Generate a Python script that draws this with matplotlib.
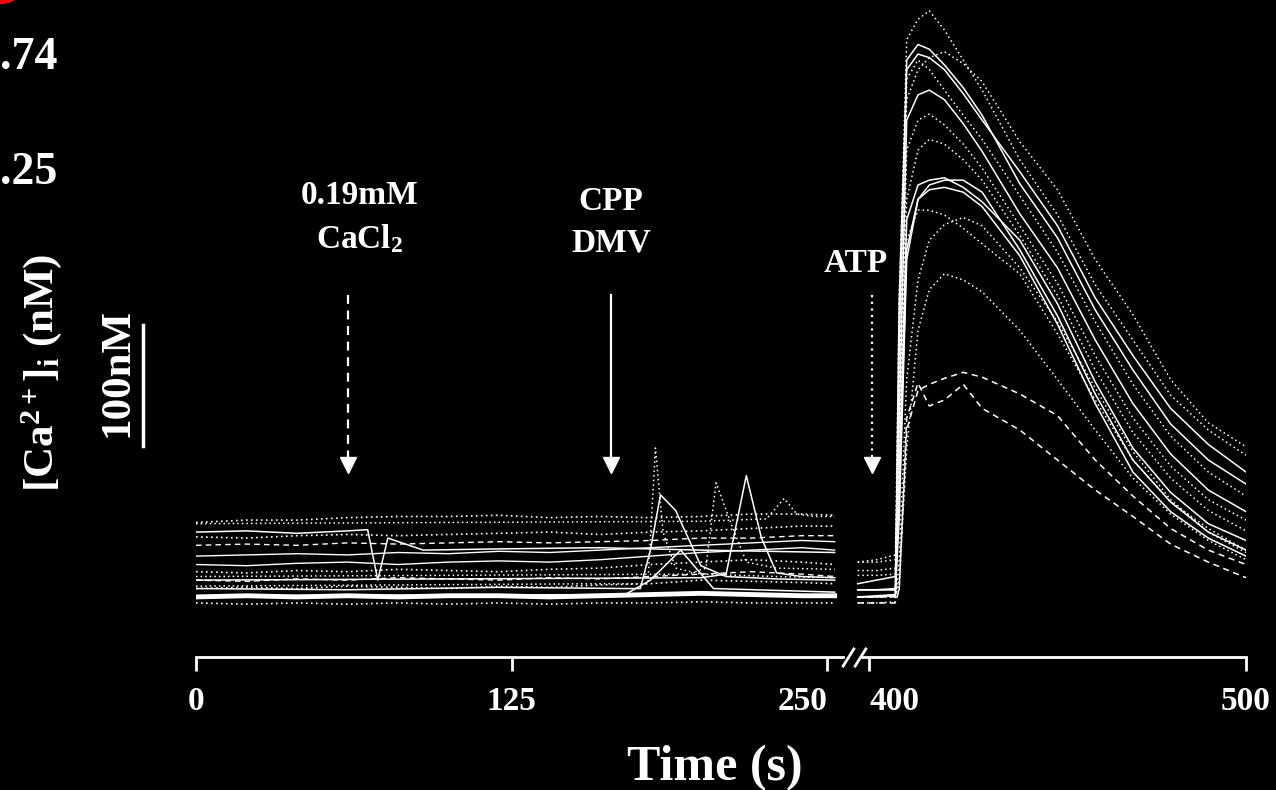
import matplotlib.pyplot as plt
from matplotlib.patches import Ellipse

plt.rcParams['font.family'] = 'Liberation Serif'
plt.rcParams['font.weight'] = 'bold'
plt.rcParams['mathtext.fontset'] = 'custom'
plt.rcParams['mathtext.rm'] = 'Liberation Serif:bold'
plt.rcParams['mathtext.it'] = 'Liberation Serif:bold'
plt.rcParams['mathtext.bf'] = 'Liberation Serif:bold'

DOT = (0, (1, 2))
DASH = (0, (4, 3))
SOLID = '-'

# ---- left part of the record, 0-253 s (values in nM)
t_base = [0, 20, 40, 60, 80, 100, 120, 140, 160, 180, 200, 220, 240, 253]
base_traces = [
    ([173, 175, 175, 177, 178, 178, 179, 177, 178, 177, 178, 180, 180, 179], DOT, 1.2),
    ([161, 160, 162, 163, 162, 163, 164, 165, 163, 165, 166, 168, 170, 170], DOT, 1.2),
    ([154, 155, 154, 156, 155, 156, 157, 156, 157, 158, 160, 160, 162, 162], DASH, 1.0),
    ([145, 146, 147, 146, 148, 147, 149, 148, 150, 152, 154, 156, 158, 157], SOLID, 1.0),
    ([138, 137, 139, 140, 138, 140, 141, 140, 142, 145, 148, 150, 152, 150], SOLID, 1.0),
    ([132, 131, 133, 132, 134, 133, 132, 134, 135, 138, 140, 142, 140, 138], DOT, 1.2),
    ([125, 124, 126, 125, 127, 126, 125, 127, 126, 128, 130, 132, 130, 128], DASH, 1.0),
    ([118, 119, 118, 120, 119, 118, 120, 119, 121, 122, 125, 124, 123, 122], DOT, 1.2),
    ([111, 112, 111, 112, 111, 112, 112, 111, 112, 113, 114, 113, 112, 112], SOLID, 3.5),
    ([106, 105, 106, 105, 106, 105, 106, 105, 106, 106, 107, 106, 106, 106], DOT, 1.2),
]

# responsive cells on the left part (own time points)
t_dip = [0, 20, 40, 60, 68, 72, 76, 90, 120, 160, 200, 253]
v_dip = [165, 166, 164, 166, 167, 125, 160, 150, 151, 152, 150, 148]
t_e1 = [0, 60, 120, 170, 176, 180, 184, 190, 200, 210, 230, 253]
v_e1 = [118, 117, 119, 118, 118, 150, 196, 183, 137, 128, 126, 125]
t_e2 = [0, 80, 160, 179, 182, 185, 190, 200, 230, 253]
v_e2 = [120, 121, 122, 122, 235, 165, 135, 130, 128, 127]
t_e3 = [0, 100, 195, 202, 206, 212, 218, 230, 253]
v_e3 = [128, 129, 130, 135, 206, 172, 140, 135, 134]
t_e4 = [0, 100, 200, 210, 218, 224, 230, 240, 253]
v_e4 = [125, 126, 127, 130, 212, 160, 131, 128, 127]
t_e5 = [0, 100, 200, 226, 233, 238, 245, 253]
v_e5 = [172, 173, 174, 176, 193, 180, 178, 178]
t_e6 = [0, 170, 180, 192, 205, 253]
v_e6 = [112, 113, 125, 150, 118, 115]
event_traces = [
    (t_dip, v_dip, SOLID), (t_e1, v_e1, SOLID), (t_e2, v_e2, DOT),
    (t_e3, v_e3, DOT), (t_e4, v_e4, SOLID), (t_e5, v_e5, DOT), (t_e6, v_e6, SOLID),
]

# ---- right part of the record, 397-500 s (ATP response)
t_atp = [397, 402, 407, 408, 410, 413, 416, 420, 425, 430, 440, 450, 460, 470, 480, 490, 500]
atp_traces = [
    ([140, 142, 146, 358, 575, 592, 599, 583, 558, 533, 475, 429, 371, 325, 279, 250, 229], DOT),
    ([129, 129, 130, 275, 525, 550, 560, 565, 555, 540, 490, 450, 392, 346, 292, 256, 236], DOT),
    ([117, 117, 118, 317, 558, 571, 567, 554, 535, 512, 455, 410, 350, 300, 255, 225, 205], SOLID),
    ([111, 111, 112, 358, 550, 563, 560, 550, 530, 508, 465, 420, 360, 312, 268, 238, 215], SOLID),
    ([111, 111, 112, 275, 542, 558, 550, 533, 512, 492, 445, 398, 340, 288, 245, 215, 195], DOT),
    ([122, 125, 128, 258, 508, 529, 533, 525, 505, 482, 430, 385, 325, 272, 230, 200, 182], SOLID),
    ([133, 133, 135, 233, 483, 508, 513, 504, 488, 468, 420, 372, 312, 260, 220, 192, 175], DOT),
    ([111, 111, 111, 217, 442, 483, 492, 488, 475, 458, 412, 362, 300, 248, 210, 183, 166], DOT),
    ([111, 112, 113, 208, 425, 454, 458, 460, 452, 440, 408, 355, 290, 235, 198, 172, 158], SOLID),
    ([117, 117, 117, 175, 392, 442, 454, 458, 458, 448, 400, 345, 280, 225, 190, 165, 150], SOLID),
    ([117, 117, 117, 192, 400, 442, 450, 452, 448, 436, 395, 338, 272, 215, 182, 160, 145], SOLID),
    ([140, 140, 142, 225, 408, 433, 433, 429, 418, 405, 380, 330, 275, 225, 190, 168, 150], DOT),
    ([106, 106, 107, 142, 292, 375, 408, 421, 427, 420, 385, 340, 285, 232, 192, 165, 148], DOT),
    ([111, 111, 112, 125, 233, 333, 367, 380, 375, 365, 333, 292, 250, 210, 180, 158, 142], DOT),
    ([106, 106, 106, 117, 250, 283, 288, 293, 298, 294, 280, 262, 225, 195, 168, 150, 138], DASH),
    ([111, 111, 111, 117, 260, 289, 270, 275, 288, 268, 250, 225, 200, 178, 155, 140, 127], DASH),
]

# stimulus markers: time, label
stim_times = [60.2, 164.4, 400.8]
stim_labels = ['0.19mM\nCaCl$_2$', 'CPP\nDMV', 'ATP']
stim_styles = [DASH, SOLID, DOT]

fig = plt.figure(figsize=(12.76, 7.9), dpi=100, facecolor='black')
W, H = 1276, 790
axL = fig.add_axes([196 / W, 133 / H, 647 / W, 657 / H])
axR = fig.add_axes([856 / W, 133 / H, 390 / W, 657 / H])

for ax in (axL, axR):
    ax.set_facecolor('black')
    ax.set_ylim(61, 608)
    for s in ('top', 'right', 'left'):
        ax.spines[s].set_visible(False)
    ax.spines['bottom'].set_color('white')
    ax.spines['bottom'].set_linewidth(2)
    ax.set_yticks([])
    ax.tick_params(axis='x', colors='white', length=10, width=2,
                   labelsize=24, pad=11)

axL.set_xlim(0, 256.3)
axR.set_xlim(396.55, 500)
axL.spines['bottom'].set_bounds(0, 256.3)
axR.spines['bottom'].set_bounds(398.1, 500)
axL.set_xticks([0, 125, 250], ['0', '125', '250'])
axR.set_xticks([400, 500], ['400', '500'])
axL.get_xticklabels()[2].set_ha('right')
axR.get_xticklabels()[0].set_ha('left')

for vals, ls, lw in base_traces:
    axL.plot(t_base, vals, color='white', ls=ls, lw=lw)
for tt, vv, ls in event_traces:
    axL.plot(tt, vv, color='white', ls=ls, lw=1.1)
for vals, ls in atp_traces:
    axR.plot(t_atp, vals, color='white', ls=ls, lw=1.1)

# axis break marks
brk = dict(marker=[(-1, -1.6), (1, 1.6)], ms=14, mec='white', mew=2,
           ls='none', clip_on=False)
axL.plot([256.3 + 2], [0], transform=axL.get_xaxis_transform(), **brk)
axR.plot([398.1 - 0.5], [0], transform=axR.get_xaxis_transform(), **brk)

# stimulus arrows and labels
axes_for = [axL, axL, axR]
for ax, t, ls in zip(axes_for, stim_times, stim_styles):
    ax.plot([t, t], [362, 224], color='white', ls=ls, lw=1.6, clip_on=False)
    ax.plot([t], [221], marker='v', ms=11, color='white', clip_on=False)
tx = [65, 164.4, 396.6]
label_y = [427, 423, 389]
for ax, x, lab, ly in zip(axes_for, tx, stim_labels, label_y):
    ax.text(x, ly, lab, color='white', fontsize=24, ha='center', va='center',
            linespacing=1.45, clip_on=False)

# 100 nM scale bar and labels
axL.plot([-21, -21], [237, 337], color='white', lw=2.5, clip_on=False)
axL.text(-31, 298, '100nM', color='white', fontsize=31, rotation=90,
         ha='center', va='center', clip_on=False)
axL.text(-61, 298, '[Ca$^{2+}$]$_{\\rm i}$ (nM)', color='white', fontsize=31,
         rotation=90, ha='center', va='center', clip_on=False)

fig.text(715 / W, 1 - 768 / H, 'Time (s)', color='white', fontsize=36,
         ha='center', va='center')

# fragments from neighbouring slide content at the top-left corner
fig.text(0.0, 1 - 58 / H, '.74', color='white', fontsize=33, ha='left', va='center')
fig.text(0.0, 1 - 173 / H, '.25', color='white', fontsize=33, ha='left', va='center')
fig.add_artist(Ellipse((2 / W, 1 + 18 / H), 40 / W, 40 / H,
                       transform=fig.transFigure, facecolor='none',
                       edgecolor='red', lw=3))

fig.savefig('out.png', dpi=100, facecolor='black')
